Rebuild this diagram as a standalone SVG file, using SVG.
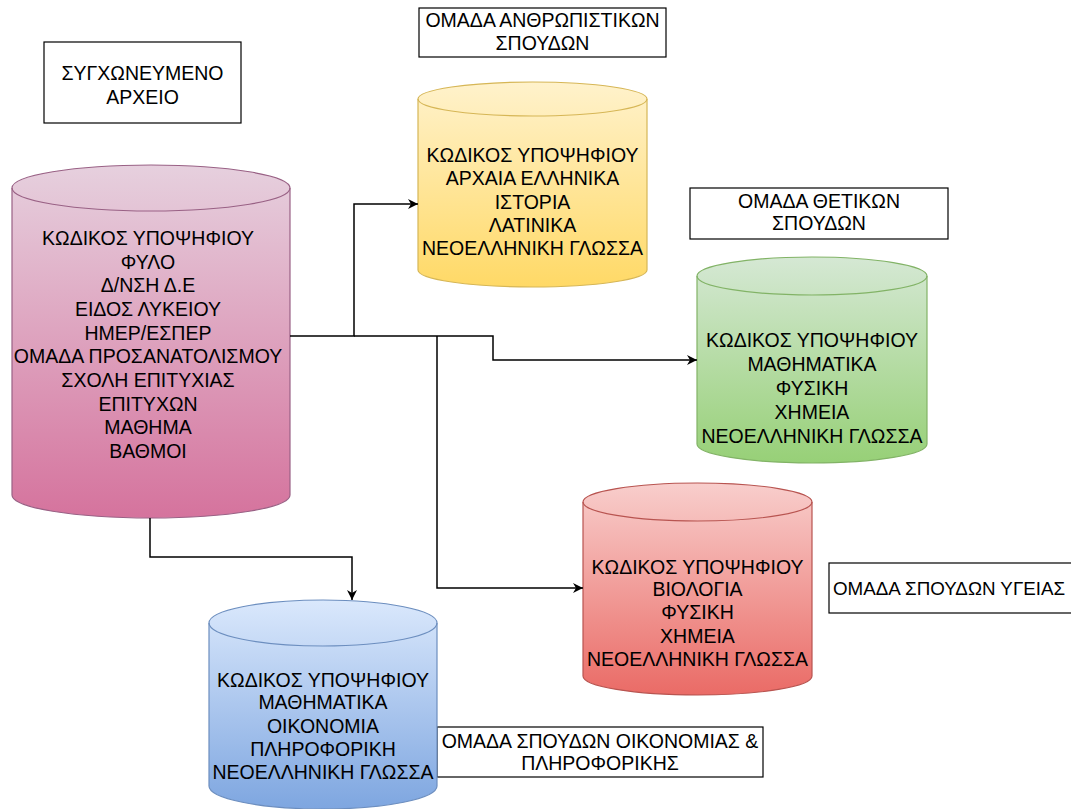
<svg xmlns="http://www.w3.org/2000/svg" width="1071" height="809" viewBox="0 0 1071 809">
<style>
text{font-family:"Liberation Sans",Arial,sans-serif;font-size:19.5px;fill:#000;text-anchor:middle}
.lbl{fill:#fff;stroke:#000;stroke-width:1.2}
.conn{fill:none;stroke:#000;stroke-width:1.5}
</style>
<defs>
<linearGradient id="gPink" x1="0" y1="0" x2="0" y2="1"><stop offset="0" stop-color="#e6d0de"/><stop offset="1" stop-color="#d5739d"/></linearGradient>
<linearGradient id="gYel" x1="0" y1="0" x2="0" y2="1"><stop offset="0" stop-color="#fff2cc"/><stop offset="1" stop-color="#ffd966"/></linearGradient>
<linearGradient id="gGrn" x1="0" y1="0" x2="0" y2="1"><stop offset="0" stop-color="#d5e8d4"/><stop offset="1" stop-color="#97d077"/></linearGradient>
<linearGradient id="gRed" x1="0" y1="0" x2="0" y2="1"><stop offset="0" stop-color="#f8cecc"/><stop offset="1" stop-color="#ea6b66"/></linearGradient>
<linearGradient id="gBlu" x1="0" y1="0" x2="0" y2="1"><stop offset="0" stop-color="#dae8fc"/><stop offset="1" stop-color="#7ea6e0"/></linearGradient>
<marker id="arr" viewBox="0 0 10 10" refX="10" refY="5" markerWidth="10" markerHeight="10" markerUnits="userSpaceOnUse" orient="auto"><path d="M0,0 L10,5 L0,10 L3,5 Z" fill="#000"/></marker>
</defs>

<g id="label-merged">
<rect class="lbl" x="44" y="42" width="197" height="81"/>
<text x="142.5" y="80">ΣΥΓΧΩΝΕΥΜΕΝΟ</text>
<text x="142.5" y="104">ΑΡΧΕΙΟ</text>
</g>

<g id="node-merged">
<path d="M12,188 A139,23 0 0 1 290,188 V495 A139,23 0 0 1 12,495 Z" fill="url(#gPink)" stroke="#996185" stroke-width="1.2"/>
<path d="M12,188 A139,23 0 0 0 290,188" fill="none" stroke="#996185" stroke-width="1.2"/>
<text x="148" y="245">ΚΩΔΙΚΟΣ ΥΠΟΨΗΦΙΟΥ</text>
<text x="148" y="269">ΦΥΛΟ</text>
<text x="148" y="292">Δ/ΝΣΗ Δ.Ε</text>
<text x="148" y="316">ΕΙΔΟΣ ΛΥΚΕΙΟΥ</text>
<text x="148" y="340">ΗΜΕΡ/ΕΣΠΕΡ</text>
<text x="148" y="363">ΟΜΑΔΑ ΠΡΟΣΑΝΑΤΟΛΙΣΜΟΥ</text>
<text x="148" y="387">ΣΧΟΛΗ ΕΠΙΤΥΧΙΑΣ</text>
<text x="148" y="411">ΕΠΙΤΥΧΩΝ</text>
<text x="148" y="434">ΜΑΘΗΜΑ</text>
<text x="148" y="458">ΒΑΘΜΟΙ</text>
</g>

<g id="label-humanities">
<rect class="lbl" x="419" y="8" width="247" height="49"/>
<text x="542.5" y="27">ΟΜΑΔΑ ΑΝΘΡΩΠΙΣΤΙΚΩΝ</text>
<text x="542.5" y="50">ΣΠΟΥΔΩΝ</text>
</g>

<g id="node-humanities">
<path d="M418,99 A114.5,17 0 0 1 647,99 V270 A114.5,17 0 0 1 418,270 Z" fill="url(#gYel)" stroke="#d6b656" stroke-width="1.2"/>
<path d="M418,99 A114.5,17 0 0 0 647,99" fill="none" stroke="#d6b656" stroke-width="1.2"/>
<text x="532.5" y="162">ΚΩΔΙΚΟΣ ΥΠΟΨΗΦΙΟΥ</text>
<text x="532.5" y="185">ΑΡΧΑΙΑ ΕΛΛΗΝΙΚΑ</text>
<text x="532.5" y="209">ΙΣΤΟΡΙΑ</text>
<text x="532.5" y="232">ΛΑΤΙΝΙΚΑ</text>
<text x="532.5" y="255">ΝΕΟΕΛΛΗΝΙΚΗ ΓΛΩΣΣΑ</text>
</g>

<g id="label-science">
<rect class="lbl" x="690" y="188" width="258" height="51"/>
<text x="819" y="208">ΟΜΑΔΑ ΘΕΤΙΚΩΝ</text>
<text x="819" y="230">ΣΠΟΥΔΩΝ</text>
</g>

<g id="node-science">
<path d="M697,276 A115,19 0 0 1 927,276 V444 A115,19 0 0 1 697,444 Z" fill="url(#gGrn)" stroke="#82b366" stroke-width="1.2"/>
<path d="M697,276 A115,19 0 0 0 927,276" fill="none" stroke="#82b366" stroke-width="1.2"/>
<text x="812" y="347">ΚΩΔΙΚΟΣ ΥΠΟΨΗΦΙΟΥ</text>
<text x="812" y="371">ΜΑΘΗΜΑΤΙΚΑ</text>
<text x="812" y="395">ΦΥΣΙΚΗ</text>
<text x="812" y="419">ΧΗΜΕΙΑ</text>
<text x="812" y="443">ΝΕΟΕΛΛΗΝΙΚΗ ΓΛΩΣΣΑ</text>
</g>

<g id="label-health">
<rect class="lbl" x="829" y="563" width="260" height="50"/>
<text x="833" y="595" style="text-anchor:start;font-size:18.8px">ΟΜΑΔΑ ΣΠΟΥΔΩΝ ΥΓΕΙΑΣ</text>
</g>

<g id="node-health">
<path d="M583,502 A114.5,19 0 0 1 812,502 V676 A114.5,19 0 0 1 583,676 Z" fill="url(#gRed)" stroke="#b85450" stroke-width="1.2"/>
<path d="M583,502 A114.5,19 0 0 0 812,502" fill="none" stroke="#b85450" stroke-width="1.2"/>
<text x="697.5" y="574">ΚΩΔΙΚΟΣ ΥΠΟΨΗΦΙΟΥ</text>
<text x="697.5" y="596">ΒΙΟΛΟΓΙΑ</text>
<text x="697.5" y="619">ΦΥΣΙΚΗ</text>
<text x="697.5" y="643">ΧΗΜΕΙΑ</text>
<text x="697.5" y="666">ΝΕΟΕΛΛΗΝΙΚΗ ΓΛΩΣΣΑ</text>
</g>

<g id="label-economics">
<rect class="lbl" x="437" y="727" width="326" height="50"/>
<text x="600" y="748">ΟΜΑΔΑ ΣΠΟΥΔΩΝ ΟΙΚΟΝΟΜΙΑΣ &amp;</text>
<text x="600" y="770">ΠΛΗΡΟΦΟΡΙΚΗΣ</text>
</g>

<g id="node-economics">
<path d="M209,623 A114,23 0 0 1 437,623 V786 A114,23 0 0 1 209,786 Z" fill="url(#gBlu)" stroke="#6c8ebf" stroke-width="1.2"/>
<path d="M209,623 A114,23 0 0 0 437,623" fill="none" stroke="#6c8ebf" stroke-width="1.2"/>
<text x="323" y="687">ΚΩΔΙΚΟΣ ΥΠΟΨΗΦΙΟΥ</text>
<text x="323" y="709">ΜΑΘΗΜΑΤΙΚΑ</text>
<text x="323" y="733">ΟΙΚΟΝΟΜΙΑ</text>
<text x="323" y="756">ΠΛΗΡΟΦΟΡΙΚΗ</text>
<text x="323" y="779">ΝΕΟΕΛΛΗΝΙΚΗ ΓΛΩΣΣΑ</text>
</g>

<g id="connectors">
<path class="conn" d="M290,336 H354 V204 H418" marker-end="url(#arr)"/>
<path class="conn" d="M354,336 H493 V360 H697" marker-end="url(#arr)"/>
<path class="conn" d="M437,336 V588 H583" marker-end="url(#arr)"/>
<path class="conn" d="M150,518 V557 H352 V600" marker-end="url(#arr)"/>
</g>
</svg>
